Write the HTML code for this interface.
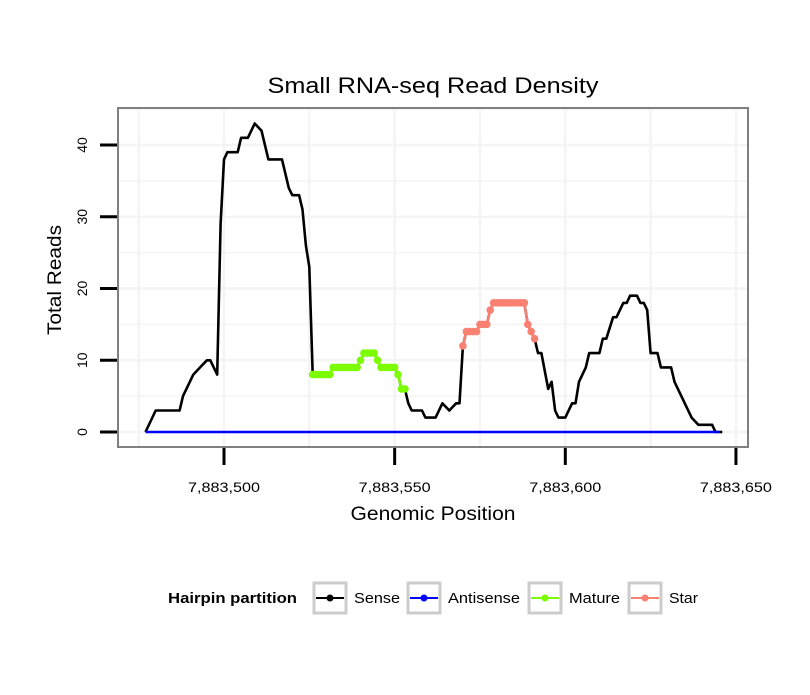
<!DOCTYPE html>
<html><head><meta charset="utf-8"><style>
body{margin:0;background:#fff;font-family:"Liberation Sans",sans-serif}
</style></head><body>
<svg width="810" height="690" xmlns="http://www.w3.org/2000/svg" font-family="Liberation Sans, sans-serif">
<text x="433" y="93" font-size="22" text-anchor="middle" textLength="331" lengthAdjust="spacingAndGlyphs">Small RNA-seq Read Density</text>
<rect x="118" y="108" width="630" height="339" fill="#fff"/>
<g id="grid"></g>
<g id="series"></g>
<rect x="118" y="108" width="630" height="339" fill="none" stroke="#808080" stroke-width="2"/>
<g id="axes"></g>
<text x="433" y="520" font-size="19" text-anchor="middle" textLength="165" lengthAdjust="spacingAndGlyphs">Genomic Position</text>
<text transform="translate(61,280) rotate(-90)" font-size="19" text-anchor="middle" textLength="110" lengthAdjust="spacingAndGlyphs">Total Reads</text>
<g font-size="15">
<text x="168" y="603" font-weight="bold" textLength="129" lengthAdjust="spacingAndGlyphs">Hairpin partition</text>
<g><rect x="314" y="583" width="32" height="30" fill="#fff" stroke="#ccc" stroke-width="3"/><line x1="316" y1="598" x2="344" y2="598" stroke="#000" stroke-width="2"/><circle cx="330" cy="598" r="3.5" fill="#000"/><text x="354" y="603" textLength="46" lengthAdjust="spacingAndGlyphs">Sense</text></g>
<g><rect x="408" y="583" width="32" height="30" fill="#fff" stroke="#ccc" stroke-width="3"/><line x1="410" y1="598" x2="438" y2="598" stroke="#0000ff" stroke-width="2"/><circle cx="424" cy="598" r="3.5" fill="#0000ff"/><text x="448" y="603" textLength="72" lengthAdjust="spacingAndGlyphs">Antisense</text></g>
<g><rect x="529" y="583" width="32" height="30" fill="#fff" stroke="#ccc" stroke-width="3"/><line x1="531" y1="598" x2="559" y2="598" stroke="#7cfc00" stroke-width="2"/><circle cx="545" cy="598" r="3.5" fill="#7cfc00"/><text x="569" y="603" textLength="51" lengthAdjust="spacingAndGlyphs">Mature</text></g>
<g><rect x="629" y="583" width="32" height="30" fill="#fff" stroke="#ccc" stroke-width="3"/><line x1="631" y1="598" x2="659" y2="598" stroke="#fa8072" stroke-width="2"/><circle cx="645" cy="598" r="3.5" fill="#fa8072"/><text x="669" y="603" textLength="29" lengthAdjust="spacingAndGlyphs">Star</text></g>
</g>
</svg>
<script>
const BASE = 7883000;
const xTicks = [7883500, 7883550, 7883600, 7883650];
const xTickLabels = ["7,883,500", "7,883,550", "7,883,600", "7,883,650"];
const yTicks = [0, 10, 20, 30, 40];
const sensePos = [477,480,487,488,491,493,495,496,498,499,500,501,504,505,507,509,511,513,517,519,520,522,523,524,525,526,531,532,539,540,541,544,545,546,550,551,552,553,554,555,558,559,562,564,566,568,569,570,571,574,575,577,578,579,588,589,590,591,592,593,595,596,597,598,600,602,603,604,606,607,610,611,612,614,615,617,618,619,621,622,623,624,625,627,628,631,632,633,637,639,643,644,646];
const senseVal = [0,3,3,5,8,9,10,10,8,29,38,39,39,41,41,43,42,38,38,34,33,33,31,26,23,8,8,9,9,10,11,11,10,9,9,8,6,6,4,3,3,2,2,4,3,4,4,12,14,14,15,15,17,18,18,15,14,13,11,11,6,7,3,2,2,4,4,7,9,11,11,13,13,16,16,18,18,19,19,18,18,17,11,11,9,9,7,6,2,1,1,0,0];
const antiPos = [477, 645];
const antiVal = [0, 0];
const maturePos = [526,527,528,529,530,531,532,533,534,535,536,537,538,539,540,541,542,543,544,545,546,547,548,549,550,551,552,553];
const matureVal = [8,8,8,8,8,8,9,9,9,9,9,9,9,9,10,11,11,11,11,10,9,9,9,9,9,8,6,6];
const starPos = [570,571,572,573,574,575,576,577,578,579,580,581,582,583,584,585,586,587,588,589,590,591];
const starVal = [12,14,14,14,14,15,15,15,17,18,18,18,18,18,18,18,18,18,18,15,14,13];

const NS = "http://www.w3.org/2000/svg";
const X0 = 118, X1 = 748, Y0 = 108, Y1 = 447;
function xs(p){ return 224 + (p - 7883500) * 3.413; }
function ys(v){ return 432 - v * 7.175; }
function mk(tag, attrs, parent){ const e = document.createElementNS(NS, tag); for (const k in attrs) e.setAttribute(k, attrs[k]); parent.appendChild(e); return e; }

const grid = document.getElementById('grid');
for (let v = -5; v <= 45; v += 5) {
  const y = ys(v); if (y < Y0 || y > Y1) continue;
  const l = mk('line', {x1:X0, x2:X1, y1:y, y2:y, stroke:'#f4f4f4', 'stroke-width': v % 10 === 0 ? 2.5 : 1.5}, grid);
  
  
}
for (let p = 7883450; p <= 7883675; p += 25) {
  const x = xs(p); if (x < X0 || x > X1) continue;
  const l = mk('line', {x1:x, x2:x, y1:Y0, y2:Y1, stroke:'#f4f4f4', 'stroke-width':2.5}, grid);
  
  
}

const axes = document.getElementById('axes');
yTicks.forEach(v => {
  const y = ys(v);
  const t = mk('line', {x1:100, x2:117, y1:y, y2:y, stroke:'#000', 'stroke-width':3}, axes);
  
  
  const tx = mk('text', {transform:`translate(87,${y}) rotate(-90)`, 'font-size':14, 'text-anchor':'middle'}, axes);
  tx.textContent = String(v);
  
  
});
xTicks.forEach((p, i) => {
  const x = xs(p);
  const t = mk('line', {x1:x, x2:x, y1:448, y2:465, stroke:'#000', 'stroke-width':3}, axes);
  
  
  const tx = mk('text', {x:x, y:492, 'font-size':14, 'text-anchor':'middle', textLength:72, lengthAdjust:'spacingAndGlyphs'}, axes);
  tx.textContent = xTickLabels[i];
  
  
});

const series = document.getElementById('series');
function pts(P, V){ return P.map((p,i)=>xs(BASE+p).toFixed(1)+','+ys(V[i]).toFixed(1)).join(' '); }
const sl = mk('polyline', {points:pts(sensePos, senseVal), fill:'none', stroke:'#000', 'stroke-width':2.6, 'stroke-linejoin':'round'}, series);


const al = mk('polyline', {points:pts(antiPos, antiVal), fill:'none', stroke:'#0000ff', 'stroke-width':2.6}, series);


function colored(P, V, col, name){
  const l = mk('polyline', {points:pts(P, V), fill:'none', stroke:col, 'stroke-width':2.6}, series);
  
  
  P.forEach((p,i)=>{
    const c = mk('circle', {cx:xs(BASE+p), cy:ys(V[i]), r:3.8, fill:col}, series);
    
    
  });
}
colored(maturePos, matureVal, '#7cfc00', 'mature');
colored(starPos, starVal, '#fa8072', 'star');
</script>
</body></html>
